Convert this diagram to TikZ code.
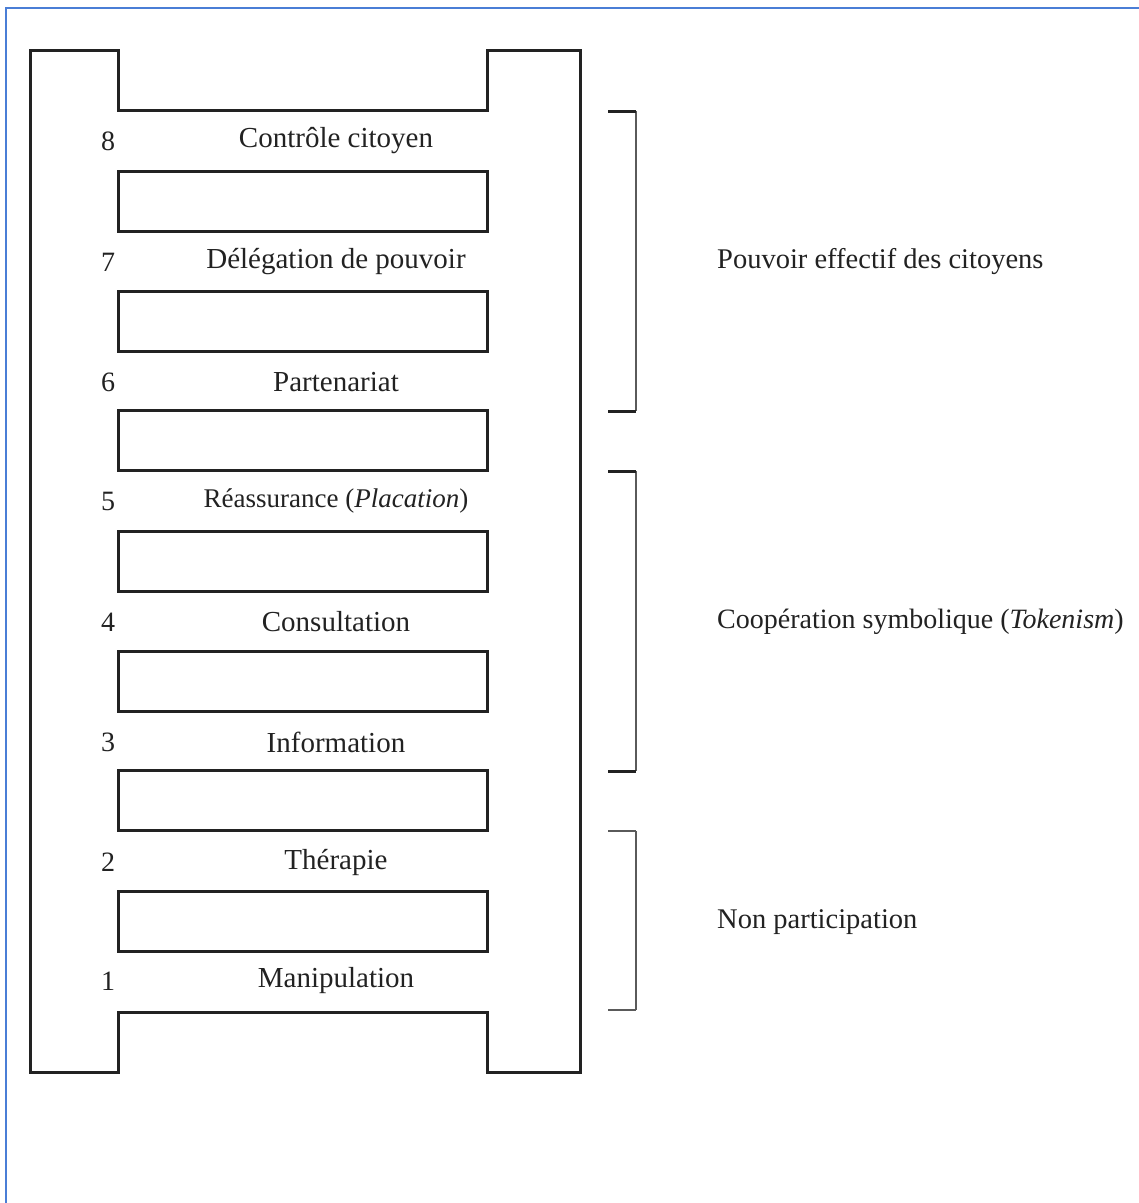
\documentclass[tikz,border=0pt]{standalone}
\usepackage{fontspec}
\setmainfont{Liberation Serif}
\definecolor{frameblue}{RGB}{74,126,214}
\definecolor{ink}{RGB}{34,34,34}
\definecolor{brk}{RGB}{90,90,90}
\begin{document}
\begin{tikzpicture}[x=1pt,y=-1pt,
  rail/.style={draw=ink,line width=3pt,line join=miter},
  rung/.style={draw=ink,line width=3pt},
  lbl/.style={text=ink,font=\fontsize{29}{32}\selectfont,inner sep=0pt,anchor=center},
  num/.style={text=ink,font=\fontsize{28}{32}\selectfont,inner sep=0pt,anchor=center},
  grp/.style={text=ink,font=\fontsize{28.5}{32}\selectfont,inner sep=0pt,anchor=west},
  bracketv/.style={draw=brk,line width=1.6pt},
  brackeths/.style={draw=ink,line width=3pt}]
\useasboundingbox (0,0) rectangle (1139,1203);
\fill[white] (0,0) rectangle (1139,1203);
% frame
\draw[frameblue,line width=2.5pt] (6,1203) -- (6,8) -- (1139,8);
% ladder outline
\draw[rail] (30,1072) -- (30,50) -- (118,50) -- (118,110) -- (487,110) -- (487,50)
  -- (580,50) -- (580,1072) -- (487,1072) -- (487,1012) -- (118,1012) -- (118,1072) -- cycle;
% rungs
\foreach \y in {171,291,410,531,651,770,891}
  \draw[rung] (118,\y) rectangle (487,\y+60);
% levels
\node[num] (n8) at (108,141) {8};
\node[num] (n7) at (108,262) {7};
\node[num] (n6) at (108,382) {6};
\node[num] (n5) at (108,501) {5};
\node[num] (n4) at (108,622) {4};
\node[num] (n3) at (108,742) {3};
\node[num] (n2) at (108,862) {2};
\node[num] (n1) at (108,981) {1};
\node[lbl] (l8) at (336,141) {Contrôle citoyen};
\node[lbl] (l7) at (336,262) {Délégation de pouvoir};
\node[lbl] (l6) at (336,382) {Partenariat};
\node[lbl,font=\fontsize{27}{32}\selectfont] (l5) at (336,501) {Réassurance (\textit{Placation})};
\node[lbl] (l4) at (336,622) {Consultation};
\node[lbl] (l3) at (336,742) {Information};
\node[lbl] (l2) at (336,862) {Thérapie};
\node[lbl] (l1) at (336,981) {Manipulation};
% brackets
\coordinate (b1t) at (636,111); \coordinate (b1b) at (636,411);
\coordinate (b2t) at (636,471); \coordinate (b2b) at (636,771);
\coordinate (b3t) at (636,831); \coordinate (b3b) at (636,1010);
\draw[bracketv] (b1t) -- (b1b);
\draw[brackeths] (608,111) -- (b1t) (608,411) -- (b1b);
\draw[bracketv] (b2t) -- (b2b);
\draw[brackeths] (608,471) -- (b2t) (608,771) -- (b2b);
\draw[bracketv] (b3t) -- (b3b);
\draw[bracketv] (608,831) -- (b3t) (608,1010) -- (b3b);
\node[grp] (g1) at (717,262) {Pouvoir effectif des citoyens};
\node[grp,font=\fontsize{28}{32}\selectfont] (g2) at (717,622) {Coopération symbolique (\textit{Tokenism})};
\node[grp] (g3) at (717,922) {Non participation};
\end{tikzpicture}
\end{document}
